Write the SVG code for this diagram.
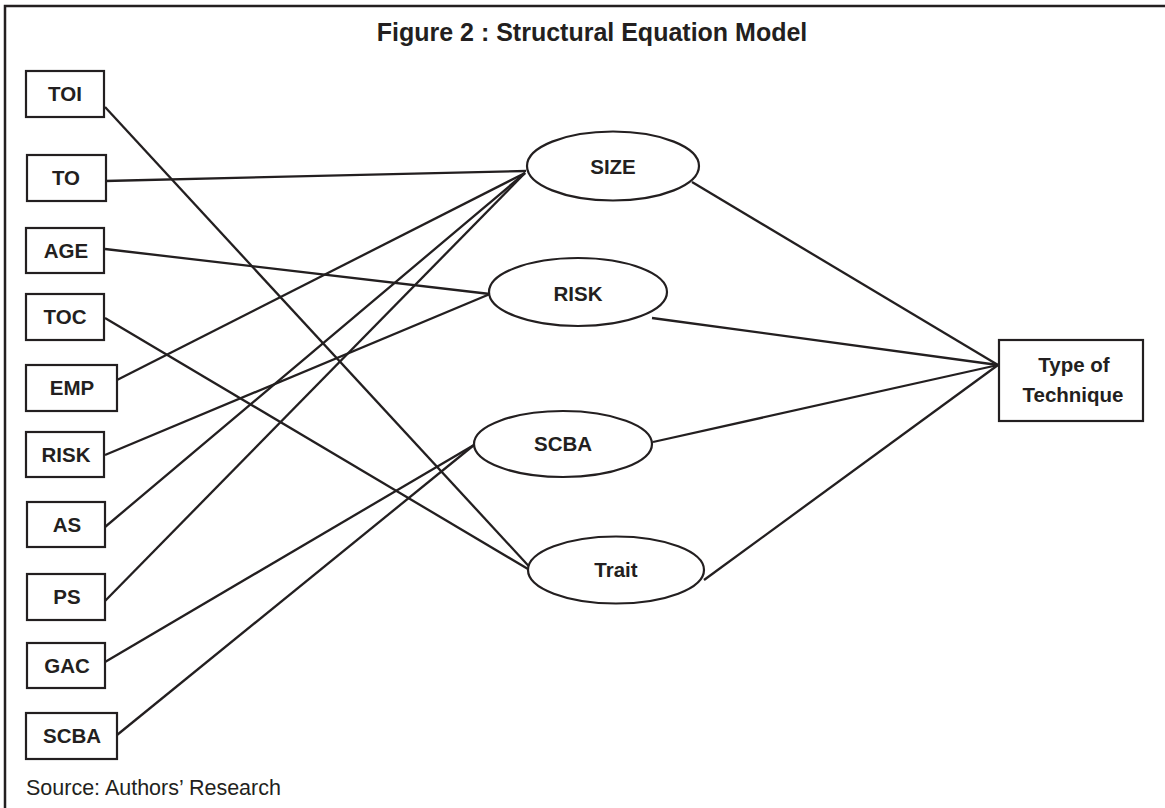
<svg xmlns="http://www.w3.org/2000/svg" width="1165" height="808" viewBox="0 0 1165 808">
<style>
.frame{fill:none;stroke:#231f20;stroke-width:2.5}
.box{fill:#fff;stroke:#231f20;stroke-width:2.2}
.ell{fill:#fff;stroke:#231f20;stroke-width:2.2}
.lbl{font-family:"Liberation Sans",Arial,sans-serif;font-weight:bold;font-size:20.5px;fill:#231f20;text-anchor:middle}
.title{font-family:"Liberation Sans",Arial,sans-serif;font-weight:bold;font-size:25px;fill:#231f20;text-anchor:middle}
.src{font-family:"Liberation Sans",Arial,sans-serif;font-size:21.5px;fill:#231f20}
#connectors line{stroke:#231f20;stroke-width:2.3;fill:none}
</style>
<rect x="0" y="0" width="1165" height="808" fill="#fff"/>
<rect class="frame" x="5" y="6" width="1200" height="900"/>
<text class="title" x="592" y="41">Figure 2 : Structural Equation Model</text>
<g id="connectors">
<line x1="105" y1="107" x2="536" y2="574"/>
<line x1="105" y1="181" x2="526" y2="171"/>
<line x1="105" y1="249" x2="490" y2="294"/>
<line x1="105" y1="318" x2="528" y2="569"/>
<line x1="117" y1="380" x2="525" y2="173"/>
<line x1="105" y1="455" x2="490" y2="294"/>
<line x1="105" y1="527" x2="525" y2="173"/>
<line x1="105" y1="601" x2="525" y2="173"/>
<line x1="105" y1="662" x2="474" y2="445"/>
<line x1="117" y1="735" x2="474" y2="445"/>
<line x1="692" y1="182" x2="998" y2="365"/>
<line x1="652" y1="318" x2="998" y2="365"/>
<line x1="653" y1="442" x2="998" y2="365"/>
<line x1="704" y1="580" x2="998" y2="365"/>
</g>
<g id="n-toi"><rect class="box" x="26" y="71" width="78" height="46"/><text class="lbl" x="65" y="101">TOI</text></g>
<g id="n-to"><rect class="box" x="27" y="155" width="79" height="46"/><text class="lbl" x="66" y="185">TO</text></g>
<g id="n-age"><rect class="box" x="26" y="228" width="78" height="45"/><text class="lbl" x="66" y="258">AGE</text></g>
<g id="n-toc"><rect class="box" x="26" y="294" width="78" height="46"/><text class="lbl" x="65" y="324">TOC</text></g>
<g id="n-emp"><rect class="box" x="26" y="365" width="91" height="46"/><text class="lbl" x="72" y="395">EMP</text></g>
<g id="n-risk"><rect class="box" x="26" y="432" width="78" height="45"/><text class="lbl" x="66" y="462">RISK</text></g>
<g id="n-as"><rect class="box" x="27" y="502" width="78" height="45"/><text class="lbl" x="67" y="532">AS</text></g>
<g id="n-ps"><rect class="box" x="27" y="574" width="78" height="46"/><text class="lbl" x="67" y="604">PS</text></g>
<g id="n-gac"><rect class="box" x="27" y="643" width="78" height="45"/><text class="lbl" x="67" y="673">GAC</text></g>
<g id="n-scba"><rect class="box" x="26" y="713" width="91" height="46"/><text class="lbl" x="72" y="743">SCBA</text></g>
<g id="l-size"><ellipse class="ell" cx="613" cy="166" rx="86" ry="34.5"/><text class="lbl" x="613" y="174">SIZE</text></g>
<g id="l-risk"><ellipse class="ell" cx="578" cy="292" rx="89" ry="34"/><text class="lbl" x="578" y="301">RISK</text></g>
<g id="l-scba"><ellipse class="ell" cx="563" cy="444" rx="89" ry="33"/><text class="lbl" x="563" y="451">SCBA</text></g>
<g id="l-trait"><ellipse class="ell" cx="616" cy="570" rx="88" ry="33.5"/><text class="lbl" x="616" y="577">Trait</text></g>
<g id="n-type"><rect class="box" x="999" y="340" width="144" height="81"/><text class="lbl" x="1074" y="372">Type of</text><text class="lbl" x="1073" y="402">Technique</text></g>
<text class="src" x="26" y="795">Source: Authors’ Research</text>
</svg>
